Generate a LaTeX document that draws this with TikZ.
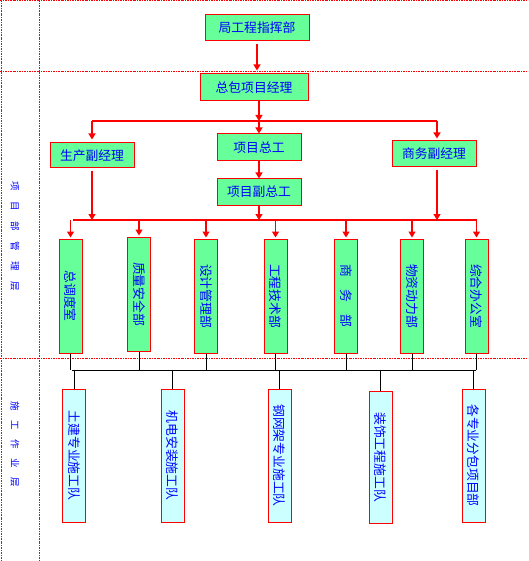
\documentclass[tikz,border=0pt]{standalone}
\usepackage{fontspec}
\usepackage{graphicx}
\newfontfamily\cjk{Noto Sans CJK SC}
\usetikzlibrary{arrows.meta}
\definecolor{boxgreen}{HTML}{66FF99}
\definecolor{boxcyan}{HTML}{CCFFFF}
\begin{document}
\begin{tikzpicture}[x=1pt,y=-1pt,
  hbox/.style={draw=red,line width=1pt,fill=boxgreen,inner sep=0pt,text=blue,font=\cjk\fontsize{12.8}{14}\selectfont},
  vbox/.style={hbox,minimum width=23pt,minimum height=114pt},
  tbox/.style={hbox,fill=boxcyan,minimum width=23pt,minimum height=133pt},
  conn/.style={draw=red,line width=1.2pt},
  arr/.style={conn,-{Triangle[width=7pt,length=6pt]}},
  blk/.style={draw=black,line width=0.9pt},
  sepline/.style={draw=red,line width=0.9pt,dash pattern=on 2pt off 1pt on 0.8pt off 1pt},
  side/.style={text=blue,font=\cjk\fontsize{9.5}{10}\selectfont,inner sep=0pt}]
\useasboundingbox (0,0) rectangle (528,561);
% separators
\draw[sepline] (0,0.5) -- (528,0.5);
\draw[sepline] (1,0) -- (1,561);
\draw[sepline] (39,0) -- (39,561);
\draw[sepline] (0,71) -- (528,71);
\draw[sepline] (0,358) -- (528,358);
% side labels
\node[side] (lab1) at (15,236.5) {\rotatebox{-90}{项\hspace{10.5pt}目\hspace{10.5pt}部\hspace{10.5pt}管\hspace{10.5pt}理\hspace{10.5pt}层}};
\node[side] (lab2) at (15,444) {\rotatebox{-90}{施\hspace{9.5pt}工\hspace{9.5pt}作\hspace{9.5pt}业\hspace{9.5pt}层}};
% top boxes
\node[hbox,minimum width=104pt,minimum height=26pt] (ju) at (257,28) {局工程指挥部};
\node[hbox,minimum width=108pt,minimum height=27pt] (zb) at (254,87.5) {总包项目经理};
\node[hbox,minimum width=84pt,minimum height=25pt] (sc) at (92,155.5) {生产副经理};
\node[hbox,minimum width=84pt,minimum height=27pt] (xmzg) at (259,147.5) {项目总工};
\node[hbox,minimum width=84pt,minimum height=26pt] (sw) at (434,154) {商务副经理};
\node[hbox,minimum width=84pt,minimum height=26pt] (xmfz) at (259,192) {项目副总工};
% department boxes
\node[vbox] (d1) at (70.5,296) {\rotatebox{-90}{总调度室}};
\node[vbox] (d2) at (139,294) {\rotatebox{-90}{质量安全部}};
\node[vbox] (d3) at (206,296) {\rotatebox{-90}{设计管理部}};
\node[vbox] (d4) at (275.5,296) {\rotatebox{-90}{工程技术部}};
\node[vbox] (d5) at (346,296) {\rotatebox{-90}{商\hspace{12pt}务\hspace{12pt}部}};
\node[vbox] (d6) at (412,296) {\rotatebox{-90}{物资动力部}};
\node[vbox] (d7) at (476.5,296) {\rotatebox{-90}{综合办公室}};
% team boxes
\node[tbox] (t1) at (74,455.5) {\rotatebox{-90}{土建专业施工队}};
\node[tbox] (t2) at (172.5,455.5) {\rotatebox{-90}{机电安装施工队}};
\node[tbox] (t3) at (279.5,455.5) {\rotatebox{-90}{钢网架专业施工队}};
\node[tbox,minimum height=132pt] (t4) at (380.5,457) {\rotatebox{-90}{装饰工程施工队}};
\node[tbox] (t5) at (473.5,455.5) {\rotatebox{-90}{各专业分包项目部}};
% connectors top
\draw[arr,shorten <=3pt,shorten >=3pt] (ju.south) -- (ju.south |- zb.north);
\coordinate (b1) at (92,121);
\coordinate (bm) at (259,121);
\coordinate (b2) at (437,121);
\draw[arr] (bm |- zb.south) -- (bm);
\draw[conn] (b1) -- (b2);
\draw[arr,shorten >=3pt] (b1) -- (b1 |- sc.north);
\draw[arr] (bm) -- (xmzg.north);
\draw[arr,shorten >=2pt] (b2) -- (b2 |- sw.north);
\draw[arr] (xmzg.south) -- (xmfz.north);
\coordinate (c1) at (73,220);
\coordinate (c2) at (477,220);
\draw[conn] (c1) -- (c2);
\draw[arr,shorten <=3pt] (sc.south) -- (sc.south |- c1);
\draw[arr,shorten <=3pt] (b2 |- sw.south) -- (b2 |- c1);
\draw[arr] (xmfz.south) -- (xmfz.south |- c1);
\foreach \d in {d1,d2,d3,d4,d5,d6,d7} {
  \draw[arr,shorten >=1pt] (\d.north |- c1) -- (\d.north);
}
% black connectors
\coordinate (k1) at (72,370);
\coordinate (k2) at (476,370);
\draw[blk] (k1) -- (k2);
\foreach \d in {d1,d2,d3,d4,d5,d6,d7} {
  \draw[blk] (\d.south) -- (\d.south |- k1);
}
\foreach \t in {t1,t2,t3,t4,t5} {
  \draw[blk] (\t.north |- k1) -- (\t.north);
}
\end{tikzpicture}
\end{document}
